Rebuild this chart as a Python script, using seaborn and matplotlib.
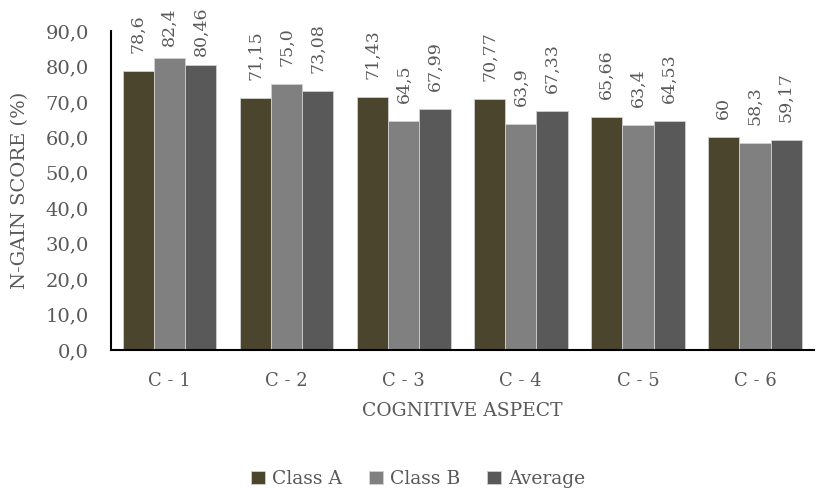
import pandas as pd
import matplotlib.pyplot as plt
import seaborn as sns

# data
aspects = ['C - 1', 'C - 2', 'C - 3', 'C - 4', 'C - 5', 'C - 6']
class_a = [78.6, 71.15, 71.43, 70.77, 65.66, 60.0]
class_b = [82.4, 75.0, 64.5, 63.9, 63.4, 58.3]
average = [80.46, 73.08, 67.99, 67.33, 64.53, 59.17]
labels_a = ['78,6', '71,15', '71,43', '70,77', '65,66', '60']
labels_b = ['82,4', '75,0', '64,5', '63,9', '63,4', '58,3']
labels_avg = ['80,46', '73,08', '67,99', '67,33', '64,53', '59,17']
series = ['Class A', 'Class B', 'Average']
yticks = [0, 10, 20, 30, 40, 50, 60, 70, 80, 90]

df = pd.DataFrame({
    'aspect': aspects * 3,
    'series': [s for s in series for _ in aspects],
    'score': class_a + class_b + average,
})

sns.set_style('white')
plt.rcParams['font.family'] = ['DejaVu Serif']
text_col = '#595959'

fig = plt.figure(figsize=(8.16, 4.93), dpi=100)
ax = fig.add_axes([0.136, 0.29, 0.861, 0.647])

palette = {'Class A': '#4a452c', 'Class B': '#808080', 'Average': '#595959'}
sns.barplot(data=df, x='aspect', y='score', hue='series', palette=palette,
            width=0.8, edgecolor='#d0d0d0', linewidth=0.6, saturation=1, ax=ax)

pad = 13
texts = []
for cont, labs in zip(ax.containers, [labels_a, labels_b, labels_avg]):
    texts += ax.bar_label(cont, labels=labs, rotation=90, padding=pad,
                          color=text_col, fontsize=12.5)

ax.set_ylim(0, 90)
ax.set_yticks(yticks)
ax.set_yticklabels([f'{v:.1f}'.replace('.', ',') for v in yticks])
ax.set_xlim(-0.5, 5.5)
ax.tick_params(axis='both', length=0, colors=text_col)
ax.tick_params(axis='x', pad=16, labelsize=13)
ax.tick_params(axis='y', pad=16, labelsize=14)

ax.set_ylabel('N-GAIN SCORE (%)', fontsize=14, color=text_col)
ax.set_xlabel('COGNITIVE ASPECT', fontsize=13.5, color=text_col)
ax.yaxis.set_label_coords(-0.117, 0.5)
ax.xaxis.set_label_coords(0.5, -0.163)

for side in ['top', 'right']:
    ax.spines[side].set_visible(False)
for side in ['left', 'bottom']:
    ax.spines[side].set_color('black')
    ax.spines[side].set_linewidth(1.5)

# keep value labels inside the chart area, like the spreadsheet does
fig.canvas.draw()
renderer = fig.canvas.get_renderer()
top_px = fig.bbox.height - 7
for t in texts:
    bb = t.get_window_extent(renderer)
    if bb.y1 > top_px:
        over = (bb.y1 - top_px) * 72 / fig.dpi
        t.xyann = (0, pad - over)

handles, labs = ax.get_legend_handles_labels()
ax.legend_.remove()
fig.legend(handles, labs, loc='center', bbox_to_anchor=(418 / 816, 1 - 479 / 493),
           ncol=3, frameon=False, fontsize=13.5, handlelength=0.75, handleheight=0.75,
           handletextpad=0.4, columnspacing=1.4, labelcolor=text_col)

fig.savefig('out.png', dpi=100)
